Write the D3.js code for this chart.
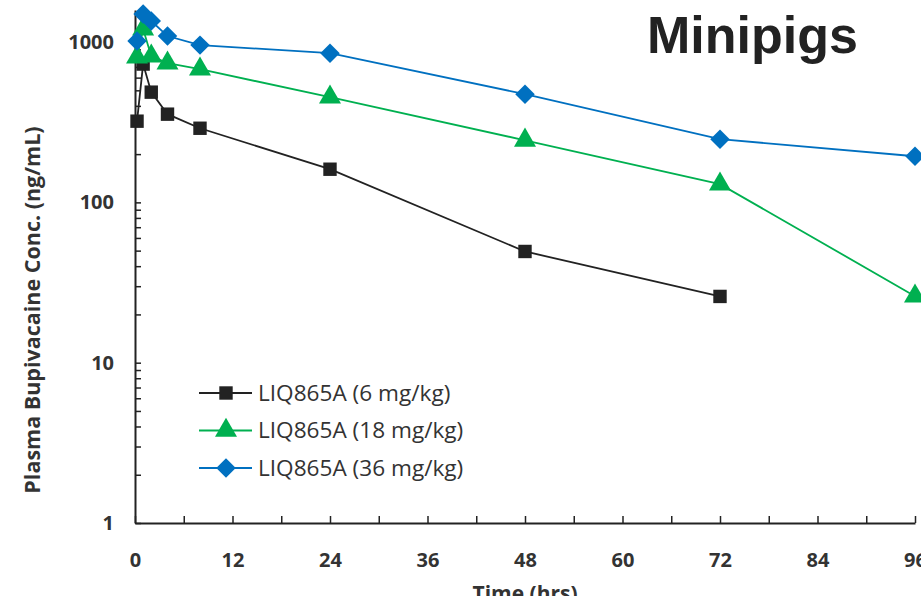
<!DOCTYPE html>
<html>
<head>
<meta charset="utf-8">
<script src="https://cdn.jsdelivr.net/npm/d3@7"></script>
<style>
  body { margin: 0; background: #fff; }
  svg { display: block; }
</style>
</head>
<body>
<script>
// sampling times (hrs) and plasma concentrations (ng/mL)
const times6 = [0.25, 1, 2, 4, 8, 24, 48, 72];
const conc6 = [321, 729, 487, 355, 290, 161, 49.4, 25.9];
const times18 = [0.25, 1, 2, 4, 8, 24, 48, 72, 96];
const conc18 = [805, 1205, 817, 739, 678, 453, 244, 130, 26];
const times36 = [0.25, 1, 2, 4, 8, 24, 48, 72, 96];
const conc36 = [1014, 1496, 1353, 1090, 957, 853, 473, 248, 194];
const seriesNames = ["LIQ865A (6 mg/kg)", "LIQ865A (18 mg/kg)", "LIQ865A (36 mg/kg)"];
const xTicks = [0, 12, 24, 36, 48, 60, 72, 84, 96];
const yTicks = [1, 10, 100, 1000];

const W = 921, H = 596;
const margin = {top: 10, right: 6, bottom: 73, left: 135};
const width = W - margin.left - margin.right,
      height = H - margin.top - margin.bottom;

const series = [
    {name: seriesNames[0], t: times6, c: conc6, color: "#222222", shape: d3.symbolSquare, size: 180, rot: 0},
    {name: seriesNames[1], t: times18, c: conc18, color: "#00B050", shape: d3.symbolTriangle, size: 210, rot: 0},
    {name: seriesNames[2], t: times36, c: conc36, color: "#0070C0", shape: d3.symbolSquare, size: 190, rot: 45}
];

const x = d3.scaleLinear().domain([0, 96]).range([0, 780]);
const y = d3.scaleLog().domain([1, Math.pow(10, 3.2)]).range([height, 0]);

const svg = d3.select("body").append("svg")
    .attr("width", W)
    .attr("height", H)
    .append("g")
    .attr("transform", "translate(" + margin.left + "," + margin.top + ")");

const tickFont = "'Open Sans', sans-serif";

// x axis, ticks every 6 hrs pointing up
const xAxis = svg.append("g")
    .attr("transform", "translate(0," + height + ")")
    .call(d3.axisBottom(x).tickValues(d3.range(0, 97, 6)).tickSizeInner(-7).tickSizeOuter(0)
        .tickFormat(d => xTicks.includes(d) ? d : ""));
xAxis.select(".domain").attr("stroke", "#222").attr("stroke-width", 2);
xAxis.selectAll(".tick line").attr("stroke", "#222").attr("stroke-width", 1.5);
xAxis.selectAll(".tick text")
    .attr("y", 30)
    .attr("fill", "#333")
    .attr("font-family", tickFont)
    .attr("font-weight", "bold")
    .attr("font-size", "20px");

// y axis, log with minor ticks pointing right
const minor = [];
for (let dec = 1; dec <= 1000; dec *= 10) {
    for (let k = 1; k <= 9; k++) {
        if (dec * k <= Math.pow(10, 3.2)) minor.push(dec * k);
    }
}
const yAxis = svg.append("g")
    .call(d3.axisLeft(y).tickValues(minor).tickSizeInner(-6).tickSizeOuter(0)
        .tickFormat(d => yTicks.includes(d) ? d : ""));
yAxis.select(".domain").attr("stroke", "#222").attr("stroke-width", 2);
yAxis.selectAll(".tick line").attr("stroke", "#222").attr("stroke-width", 1.5);
yAxis.selectAll(".tick text")
    .attr("x", -21)
    .attr("fill", "#333")
    .attr("font-family", tickFont)
    .attr("font-weight", "bold")
    .attr("font-size", "20px");

// lines and markers
const line = d3.line()
    .x(d => x(d[0]))
    .y(d => y(d[1]));

series.forEach(s => {
    const pts = s.t.map((t, i) => [t, s.c[i]]);
    svg.append("path")
        .datum(pts)
        .attr("fill", "none")
        .attr("stroke", s.color)
        .attr("stroke-width", 1.8)
        .attr("d", line);
});
series.forEach(s => {
    const pts = s.t.map((t, i) => [t, s.c[i]]);
    svg.selectAll(null)
        .data(pts)
        .enter().append("path")
        .attr("transform", d => "translate(" + x(d[0]) + "," + y(d[1]) + ") rotate(" + s.rot + ")")
        .attr("d", d3.symbol().type(s.shape).size(s.size))
        .attr("fill", s.color);
});

// legend
const legend = svg.append("g").attr("transform", "translate(64,383)");
series.forEach((s, i) => {
    const g = legend.append("g").attr("transform", "translate(0," + (i * 37.5) + ")");
    g.append("line")
        .attr("x1", 0).attr("x2", 53)
        .attr("stroke", s.color).attr("stroke-width", 1.8);
    g.append("path")
        .attr("transform", "translate(27,0) rotate(" + s.rot + ")")
        .attr("d", d3.symbol().type(s.shape).size(s.size))
        .attr("fill", s.color);
    g.append("text")
        .text(s.name)
        .attr("x", 59)
        .attr("dy", "0.35em")
        .attr("fill", "#333")
        .attr("font-family", tickFont)
        .attr("font-size", "22.6px");
});

// titles
svg.append("text")
    .text("Minipigs")
    .attr("x", 512)
    .attr("y", 43)
    .attr("font-family", "'Liberation Sans', Arial, sans-serif")
    .attr("font-weight", "bold")
    .attr("font-size", "52px")
    .attr("fill", "#222");

svg.append("text")
    .text("Time (hrs)")
    .attr("x", 390)
    .attr("y", height + 78)
    .attr("text-anchor", "middle")
    .attr("font-family", tickFont)
    .attr("font-weight", "bold")
    .attr("font-size", "21px")
    .attr("fill", "#333");

svg.append("text")
    .text("Plasma Bupivacaine Conc. (ng/mL)")
    .attr("transform", "translate(-95," + 300 + ") rotate(-90)")
    .attr("text-anchor", "middle")
    .attr("font-family", tickFont)
    .attr("font-weight", "bold")
    .attr("font-size", "21.5px")
    .attr("fill", "#333");
</script>
</body>
</html>
